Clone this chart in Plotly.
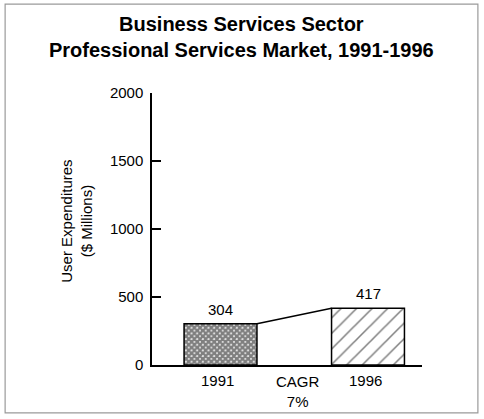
import plotly.graph_objects as go

# Market data
years = ["1991", "1996"]
values = [304, 417]
cagr_label = "CAGR<br>7%"
y_ticks = [0, 500, 1000, 1500, 2000]
title_lines = ["Business Services Sector", "Professional Services Market, 1991-1996"]

# Horizontal placement of the bars on a numeric axis
bar_pos = [1.015, 3.2]
bar_width = 1.08
cagr_pos = 2.16

FONT = "Liberation Sans, Arial, Helvetica, sans-serif"

fig = go.Figure()

fig.add_trace(go.Bar(
    x=[bar_pos[0]], y=[values[0]], width=bar_width,
    marker=dict(color="white", line=dict(color="black", width=1.5),
                pattern=dict(shape="x", size=4, solidity=0.85,
                             fgcolor="black", bgcolor="white")),
    showlegend=False, hoverinfo="skip",
))
fig.add_trace(go.Bar(
    x=[bar_pos[1]], y=[values[1]], width=bar_width,
    marker=dict(color="white", line=dict(color="black", width=1.5),
                pattern=dict(shape="/", size=11, solidity=0.14,
                             fgcolor="black", bgcolor="white")),
    showlegend=False, hoverinfo="skip",
))

# Growth line joining the two bar tops
fig.add_trace(go.Scatter(
    x=[bar_pos[0] + bar_width / 2, bar_pos[1] - bar_width / 2],
    y=values, mode="lines", line=dict(color="black", width=1.6),
    showlegend=False, hoverinfo="skip",
))

annotations = []
for xp, v, yr in zip(bar_pos, values, years):
    annotations.append(dict(x=xp, y=v, xref="x", yref="y", text=str(v),
                            showarrow=False, yanchor="bottom", yshift=4,
                            font=dict(size=15, color="black", family=FONT)))
    annotations.append(dict(x=xp - 0.04, y=0, xref="x", yref="y", text=yr,
                            showarrow=False, yanchor="top", yshift=-5,
                            font=dict(size=15, color="black", family=FONT)))
annotations.append(dict(x=cagr_pos, y=0, xref="x", yref="y", text=cagr_label,
                        showarrow=False, yanchor="top", yshift=-6,
                        font=dict(size=15, color="black", family=FONT)))
annotations.append(dict(x=-0.278, y=0.53, xref="paper", yref="paper",
                        text="User Expenditures<br>($ Millions)", textangle=-90,
                        showarrow=False, xanchor="center", yanchor="middle",
                        font=dict(size=15, color="black", family=FONT)))
# Two-line bold heading
annotations.append(dict(x=0.333, y=1.206, xref="paper", yref="paper",
                        text="<b>" + "<br>".join(title_lines) + "</b>",
                        showarrow=False, xanchor="center", yanchor="middle",
                        font=dict(size=20, color="black", family=FONT)))

fig.update_layout(
    width=484, height=419,
    margin=dict(l=152, r=62, t=93, b=54),
    paper_bgcolor="white", plot_bgcolor="white",
    font=dict(family=FONT, color="black"),
    annotations=annotations,
    xaxis=dict(range=[0, 4], showgrid=False, zeroline=False, showticklabels=False,
               ticks="", showline=True, linecolor="black", linewidth=1.5, fixedrange=True),
    yaxis=dict(range=[0, 2000], tickvals=y_ticks, showgrid=False, zeroline=False,
               ticks="inside", ticklen=9, tickwidth=1.5, tickcolor="black",
               showline=True, linecolor="black", linewidth=1.5,
               tickfont=dict(size=15, color="black", family=FONT), ticklabelstandoff=4,
               fixedrange=True),
    shapes=[dict(type="rect", xref="paper", yref="paper",
                 x0=-0.544, x1=1.207, y0=-0.176, y1=1.327,
                 line=dict(color="#9a9a9a", width=1.2), layer="below")],
)

fig.write_html("out.html")
